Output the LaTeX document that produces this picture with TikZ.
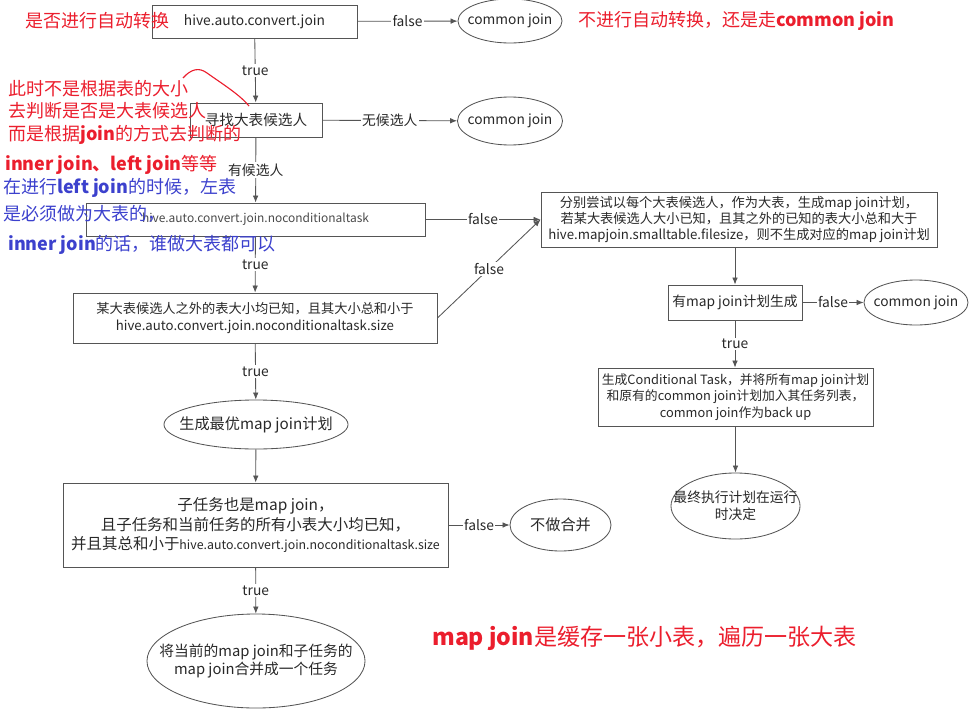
\documentclass[tikz,border=0pt]{standalone}
\usepackage{fontspec}
\setmainfont{Noto Sans CJK SC}
\usetikzlibrary{arrows.meta}
\usetikzlibrary{shapes.geometric}
\tikzset{>={Latex[length=5pt,width=4pt]}}
\definecolor{flowgray}{RGB}{85,85,85}
\definecolor{flowtext}{RGB}{40,40,40}
\definecolor{notered}{RGB}{235,30,45}
\definecolor{noteblue}{RGB}{60,65,205}
\tikzstyle{flowbox}=[draw=flowgray,line width=0.6pt,rectangle,align=center,text=flowtext,font=\fontsize{9.8}{12}\selectfont,inner sep=2pt]
\tikzstyle{flowoval}=[draw=flowgray,line width=0.6pt,ellipse,inner sep=0pt]
\tikzstyle{ovaltext}=[align=center,inner sep=0pt,text=flowtext,font=\fontsize{9.8}{12}\selectfont]
\tikzstyle{flowline}=[draw=flowgray,line width=0.6pt,->]
\tikzstyle{flowlabel}=[fill=white,inner sep=1pt,text=flowtext,font=\fontsize{9.8}{12}\selectfont]
\tikzstyle{rednote}=[anchor=west,inner sep=0pt,text=notered,font=\fontsize{12.8}{15}\selectfont]
\tikzstyle{bluenote}=[anchor=west,inner sep=0pt,text=noteblue,font=\fontsize{12.8}{15}\selectfont]

\begin{document}
\begin{tikzpicture}[x=0.025cm,y=-0.025cm]
  \useasboundingbox (0,0) rectangle (977,716);

  \node[flowbox,minimum width=5.125cm,minimum height=0.825cm] (auto) at (254.5,21.5) {hive.auto.convert.join};
  \node[flowoval,minimum width=2.6cm,minimum height=1.1cm,label={[ovaltext]center:common join}] (cj1) at (510,21) {};
  \node[flowbox,minimum width=3.3cm,minimum height=0.85cm,font=\fontsize{10.4}{12}\selectfont] (find) at (256,120) {寻找大表候选人};
  \node[flowoval,minimum width=2.625cm,minimum height=1.2cm,label={[ovaltext]center:common join}] (cj2) at (510,121) {};
  \node[flowbox,minimum width=8.475cm,minimum height=0.825cm,font=\fontsize{8.5}{11}\selectfont,text=flowtext!85] (nocond) at (255.5,219.5) {hive.auto.convert.join.noconditionaltask};
  \node[flowbox,minimum width=9.1cm,minimum height=1.25cm,font=\fontsize{9.4}{12}\selectfont] (known) at (255,318) {某大表候选人之外的表大小均已知，且其大小总和小于\\hive.auto.convert.join.noconditionaltask.size};
  \node[flowbox,minimum width=9.9cm,minimum height=1.375cm,font=\fontsize{9.4}{11.5}\selectfont] (tryall) at (739,219.5) {分别尝试以每个大表候选人，作为大表，生成map join计划，\\若某大表候选人大小已知，且其之外的已知的表大小总和大于\\hive.mapjoin.smalltable.filesize，则不生成对应的map join计划};
  \node[flowbox,minimum width=3.35cm,minimum height=0.875cm] (hasplan) at (735,302.5) {有map join计划生成};
  \node[flowoval,minimum width=2.6cm,minimum height=1.125cm,label={[ovaltext]center:common join}] (cj3) at (916,302.5) {};
  \node[flowbox,minimum width=6.875cm,minimum height=1.45cm,font=\fontsize{9.1}{11.5}\selectfont] (cond) at (735.5,397) {生成Conditional Task，并将所有map join计划\\和原有的common join计划加入其任务列表，\\common join作为back up};
  \node[flowoval,minimum width=3.225cm,minimum height=1.65cm,label={[ovaltext]center:{最终执行计划在运行\\时决定}}] (runtime) at (735.5,506) {};
  \node[flowoval,minimum width=4.6cm,minimum height=1.225cm,label={[ovaltext,font=\fontsize{10.8}{12}\selectfont]center:生成最优map join计划}] (best) at (256,424.5) {};
  \node[flowbox,minimum width=9.625cm,minimum height=2.1cm,font=\fontsize{11}{14}\selectfont] (child) at (255.5,525) {子任务也是map join，\\且子任务和当前任务的所有小表大小均已知，\\并且其总和小于{\fontsize{8.8}{14}\selectfont hive.auto.convert.join.noconditionaltask.size}};
  \node[flowoval,minimum width=2.525cm,minimum height=1.3cm,label={[ovaltext,font=\fontsize{10.8}{12}\selectfont]center:不做合并}] (nomerge) at (560.5,525) {};
  \node[flowoval,minimum width=5.45cm,minimum height=2.35cm,label={[ovaltext,font=\fontsize{10.5}{13}\selectfont]center:{将当前的map join和子任务的\\map join合并成一个任务}}] (merge) at (256,661) {};

  \draw[flowline] (auto) -- node[flowlabel]{false} (cj1);
  \draw[flowline] (auto) -- node[flowlabel]{true} (find);
  \draw[flowline] (find) -- node[flowlabel]{无候选人} (cj2);
  \draw[flowline] (find) -- node[flowlabel]{有候选人} (nocond);
  \draw[flowline] (nocond) -- node[flowlabel]{false} (tryall.west);
  \draw[flowline] (nocond) -- node[flowlabel]{true} (known);
  \draw[flowline] (known.east) -- node[flowlabel]{false} (tryall.west);
  \draw[flowline] (known) -- node[flowlabel]{true} (best);
  \draw[flowline] (best) -- (child);
  \draw[flowline] (child) -- node[flowlabel]{false} (nomerge);
  \draw[flowline] (child) -- node[flowlabel]{true} (merge);
  \draw[flowline] (tryall.south -| hasplan) -- (hasplan);
  \draw[flowline] (hasplan) -- node[flowlabel]{false} (cj3);
  \draw[flowline] (hasplan) -- node[flowlabel]{true} (cond.north -| hasplan);
  \draw[flowline] (cond.south -| runtime) -- (runtime);

  \node[rednote] (q1) at (25,21) {是否进行自动转换};
  \node[rednote] (q2) at (578,21) {不进行自动转换，还是走\textbf{common join}};
  \node[rednote] (n1) at (8,89) {此时不是根据表的大小};
  \node[rednote] (n2) at (8,111) {去判断是否是大表候选人};
  \node[rednote] (n3) at (8,135) {而是根据\textbf{join}的方式去判断的};
  \node[rednote] (n4) at (5,165) {\textbf{inner join、left join}等等};
  \node[bluenote] (n5) at (3,188) {在进行\textbf{left join}的时候，左表};
  \node[bluenote] (n6) at (3,214) {是必须做为大表的，};
  \node[bluenote] (n7) at (8,245) {\textbf{inner join}的话，谁做大表都可以};
  \node[rednote,font=\fontsize{16.4}{19}\selectfont] (n8) at (432,638) {\textbf{map join}是缓存一张小表，遍历一张大表};

  \draw[notered,line width=0.8pt] (183,78) .. controls (191,69) and (199,67) .. (207,73) .. controls (224,85) and (240,95) .. (249,106);
\end{tikzpicture}
\end{document}
